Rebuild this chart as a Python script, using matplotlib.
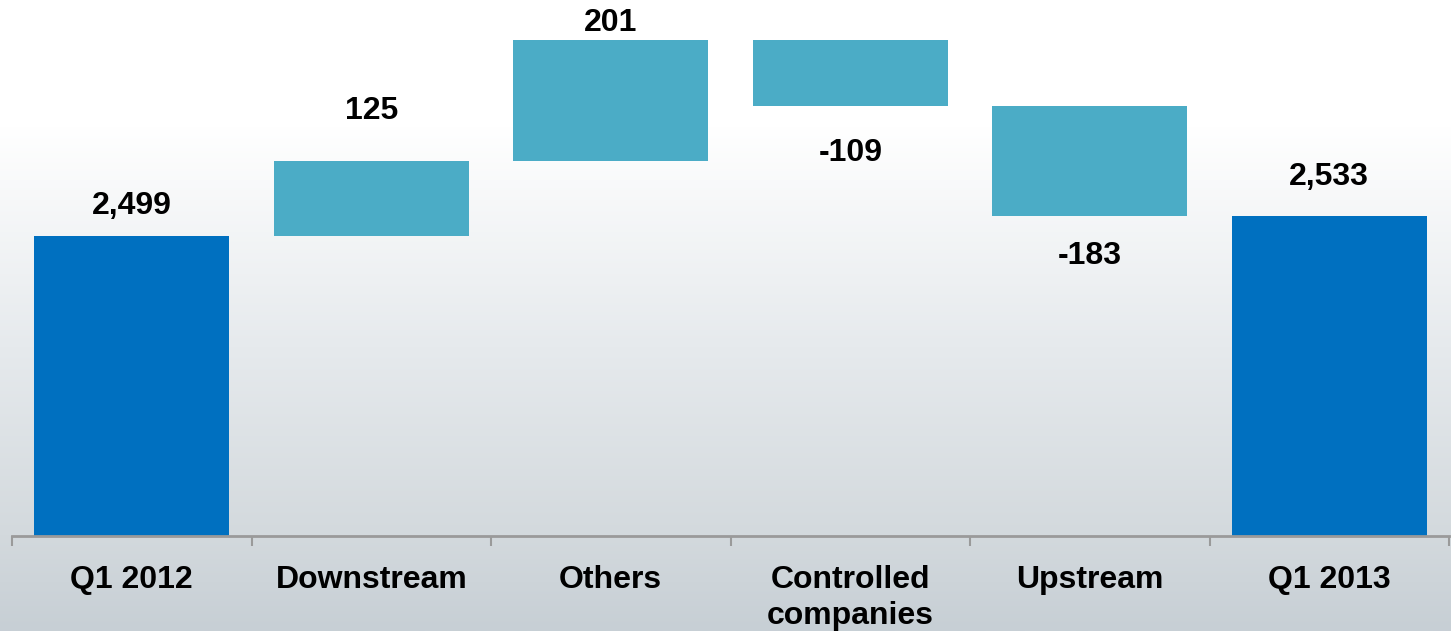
import matplotlib.pyplot as plt
import numpy as np
from matplotlib.colors import LinearSegmentedColormap

# Bridge of Q1 2012 -> Q1 2013
categories = ["Q1 2012", "Downstream", "Others", "Controlled\ncompanies", "Upstream", "Q1 2013"]
start_total = 2499
changes = [125, 201, -109, -183]
end_total = 2533
label_texts = ["2,499", "125", "201", "-109", "-183", "2,533"]

total_color = "#0070C0"
change_color = "#4BACC6"

plt.rcParams['font.family'] = ['Liberation Sans', 'DejaVu Sans']

fig = plt.figure(figsize=(14.51, 6.31), dpi=100)

# Background gradient, white at top fading into a bluish grey
bg = fig.add_axes([0, 0, 1, 1], zorder=0)
grad_cmap = LinearSegmentedColormap.from_list(
    "bg", [(0.0, "#FFFFFF"), (0.2, "#FFFFFF"), (0.55, "#E6EAED"), (0.85, "#D3D9DD"), (1.0, "#C7CFD5")])
bg.imshow(np.linspace(0, 1, 256).reshape(-1, 1), aspect="auto", cmap=grad_cmap,
          extent=[0, 1, 0, 1], origin="upper")
bg.axis("off")

ax = fig.add_axes([12 / 1451, 95 / 631, 1437 / 1451, 536 / 631], zorder=1)
ax.patch.set_alpha(0)

# Floating bars: bottoms and heights from the running total
running = [start_total]
for c in changes:
    running.append(running[-1] + c)

x = np.arange(len(categories))
bottoms = [2000]
heights = [start_total - 2000]
colors = [total_color]
for i, c in enumerate(changes):
    bottoms.append(min(running[i], running[i + 1]))
    heights.append(abs(c))
    colors.append(change_color)
bottoms.append(2000)
heights.append(end_total - 2000)
colors.append(total_color)

ax.bar(x, heights, bottom=bottoms, width=0.815, color=colors,
       edgecolor=colors, linewidth=0)

# Value labels: above rising / total bars, below falling bars
offsets = [30, 50, 17, -47, -40, 39]  # px from bar edge to text centre
values = [start_total] + changes + [end_total]
for i, (v, txt) in enumerate(zip(values, label_texts)):
    if i in (0, len(values) - 1):
        anchor = v
    elif v >= 0:
        anchor = bottoms[i] + heights[i]
    else:
        anchor = bottoms[i]
    ax.annotate(txt, (x[i], anchor), xytext=(0, offsets[i] * 0.72),
                textcoords="offset points", ha="center", va="center",
                fontsize=23, fontweight="bold", color="black")

ax.set_xlim(-0.5, len(categories) - 0.5)
ax.set_ylim(2000, 2892)

for side in ("top", "right", "left"):
    ax.spines[side].set_visible(False)
ax.spines["bottom"].set_color("#9A9A9A")
ax.spines["bottom"].set_linewidth(2)
ax.set_yticks([])

ax.set_xticks(x)
ax.set_xticklabels(categories, fontsize=23, fontweight="bold", linespacing=1.25)
ax.tick_params(axis="x", which="major", length=0, pad=21)
ax.set_xticks(np.arange(-0.5, len(categories)), minor=True)
ax.tick_params(axis="x", which="minor", length=7, width=1.5, color="#9A9A9A", direction="out")

fig.savefig("out.png", dpi=100)
